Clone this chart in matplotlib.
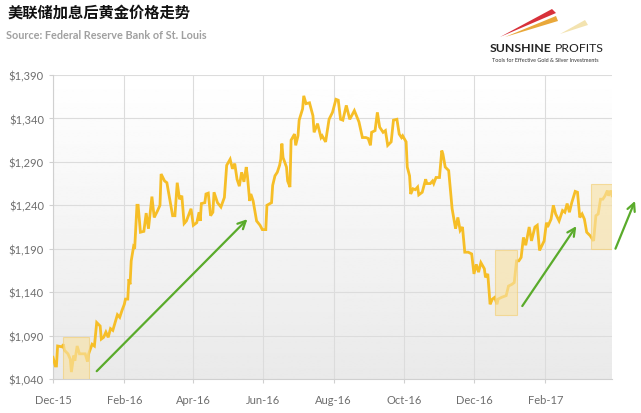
import matplotlib
matplotlib.use("Agg")
import matplotlib.pyplot as plt
import matplotlib.dates as mdates
from matplotlib.patches import Rectangle, Polygon
from matplotlib.ticker import FuncFormatter
import numpy as np
import pandas as pd

plt.rcParams["font.family"] = ["Lato", "DejaVu Sans"]

start = pd.Timestamp("2015-12-01")

# days after 2015-12-01
day_offset = [0, 2, 3, 4, 8, 9, 10, 13, 15, 16, 18, 19, 21, 23, 28, 30, 31, 34, 36, 38,
              41, 42, 44, 46, 48, 50, 52, 54, 56, 58, 60, 62, 63, 65, 66, 67, 68, 70, 71, 73,
              74, 76, 79, 81, 83, 86, 88, 91, 93, 94, 97, 99, 101, 104, 106, 108, 110, 112, 114, 116,
              120, 122, 125, 127, 128, 129, 132, 133, 135, 137, 139, 140, 143, 146, 149, 151, 154, 156, 158, 160,
              162, 164, 166, 168, 169, 171, 172, 174, 177, 180, 182, 185, 186, 190, 191, 193, 195, 197, 198, 199,
              200, 203, 204, 206, 207, 210, 211, 213, 214, 217, 218, 220, 223, 226, 227, 230, 233, 234, 237, 240,
              243, 246, 248, 250, 252, 255, 258, 262, 265, 266, 269, 272, 274, 276, 277, 280, 282, 284, 287, 289,
              291, 294, 296, 299, 301, 303, 304, 307, 308, 310, 311, 313, 315, 317, 318, 321, 324, 325, 328, 330,
              331, 333, 336, 338, 339, 341, 344, 347, 350, 352, 354, 356, 358, 361, 364, 366, 368, 370, 372, 375,
              376, 378, 380, 382, 384, 386, 387, 390, 394, 396, 399, 401, 403, 405, 407, 409, 411, 414, 416, 419,
              421, 423, 427, 429, 430, 433, 435, 437, 440, 443, 445, 447, 449, 451, 454, 456, 457, 458, 460, 462,
              464, 467, 470, 472, 474, 476, 478, 480, 482, 483, 485, 486]
gold_price = [1065, 1055, 1055, 1078, 1077, 1080, 1073, 1069, 1063, 1048, 1067, 1061, 1078, 1069, 1069, 1060, 1069, 1080, 1078, 1105,
              1101, 1086, 1088, 1094, 1088, 1098, 1096, 1105, 1114, 1111, 1119, 1126, 1132, 1132, 1155, 1149, 1176, 1192, 1190, 1240,
              1240, 1209, 1210, 1231, 1213, 1250, 1226, 1234, 1240, 1276, 1268, 1266, 1251, 1228, 1228, 1266, 1247, 1251, 1219, 1222,
              1236, 1217, 1220, 1232, 1222, 1242, 1243, 1253, 1254, 1228, 1232, 1255, 1243, 1238, 1249, 1286, 1293, 1282, 1288, 1270,
              1262, 1278, 1267, 1284, 1274, 1245, 1253, 1245, 1222, 1217, 1212, 1212, 1240, 1243, 1263, 1274, 1278, 1286, 1293, 1311,
              1295, 1284, 1268, 1261, 1315, 1322, 1309, 1320, 1338, 1351, 1366, 1357, 1358, 1343, 1324, 1334, 1318, 1320, 1313, 1339,
              1347, 1362, 1361, 1339, 1338, 1355, 1339, 1349, 1339, 1336, 1318, 1318, 1317, 1309, 1324, 1326, 1347, 1330, 1324, 1326,
              1309, 1313, 1338, 1339, 1322, 1318, 1320, 1313, 1284, 1274, 1253, 1259, 1258, 1261, 1252, 1255, 1270, 1265, 1265, 1268,
              1265, 1272, 1272, 1303, 1299, 1284, 1280, 1236, 1213, 1226, 1211, 1215, 1186, 1186, 1184, 1161, 1172, 1163, 1174, 1167,
              1157, 1161, 1126, 1132, 1134, 1126, 1132, 1134, 1136, 1147, 1149, 1151, 1176, 1176, 1180, 1203, 1194, 1215, 1199, 1215,
              1217, 1188, 1199, 1220, 1215, 1224, 1240, 1230, 1222, 1234, 1232, 1242, 1232, 1243, 1256, 1255, 1240, 1226, 1230, 1224,
              1209, 1205, 1199, 1228, 1230, 1247, 1247, 1251, 1257, 1251, 1257, 1251]

# shaded windows around the rate hikes (day range, price range)
box_days = [(9, 31), (384, 403), (468, 486)]
box_prices = [(1040, 1088), (1114, 1189), (1190, 1264)]

# green trend arrows (start -> tip)
arrow_days = [(38, 169), (408, 455), (489, 506)]
arrow_prices = [(1049, 1224), (1124, 1216), (1190, 1245)]

y_ticks = list(range(1040, 1391, 50))

GOLD = "#f6be27"
GREEN = "#5aab2b"
GRID = "#dcdcdc"
LABEL = "#6e6e6e"

fig = plt.figure(figsize=(6.41, 4.14), dpi=100)
ax = fig.add_axes([53 / 641, 1 - 380 / 414, (612 - 53) / 641, (380 - 76) / 414])

# plot background: light grey at the top fading to white
grad = np.linspace(0.915, 1.0, 256).reshape(-1, 1)
ax.imshow(grad, cmap="gray", vmin=0, vmax=1, aspect="auto",
          extent=[0, 1, 1, 0], transform=ax.transAxes, zorder=0)

dates = start + pd.to_timedelta(day_offset, unit="D")
ax.plot(dates, gold_price, color=GOLD, lw=2.0, zorder=3, solid_joinstyle="miter")

for (d0, d1), (p0, p1) in zip(box_days, box_prices):
    x0 = mdates.date2num(start + pd.Timedelta(days=d0))
    x1 = mdates.date2num(start + pd.Timedelta(days=d1))
    ax.add_patch(Rectangle((x0, p0), x1 - x0, p1 - p0, facecolor="#f8e2a6",
                           edgecolor="#f3cf74", lw=0.8, alpha=0.65, zorder=4))

for (d0, d1), (p0, p1) in zip(arrow_days, arrow_prices):
    a = start + pd.Timedelta(days=d0)
    b = start + pd.Timedelta(days=d1)
    ax.annotate("", xy=(mdates.date2num(b), p1), xytext=(mdates.date2num(a), p0),
                arrowprops=dict(arrowstyle="->", color=GREEN, lw=1.6,
                                mutation_scale=14, shrinkA=0, shrinkB=0),
                annotation_clip=False, clip_on=False, zorder=5)

ax.set_xlim(start, start + pd.Timedelta(days=486))
ax.set_ylim(1040, 1390)
ax.set_yticks(y_ticks)
ax.yaxis.set_major_formatter(FuncFormatter(lambda v, p: f"${v:,.0f}"))
ax.xaxis.set_major_locator(mdates.MonthLocator(bymonth=[2, 4, 6, 8, 10, 12]))
ax.xaxis.set_major_formatter(mdates.DateFormatter("%b-%y"))

ax.grid(True, color=GRID, lw=0.8, zorder=1)
ax.set_axisbelow(True)
for s in ["top", "right"]:
    ax.spines[s].set_visible(False)
for s in ["left", "bottom"]:
    ax.spines[s].set_color("#d0d0d0")
ax.tick_params(axis="both", colors="#d0d0d0", labelcolor=LABEL, labelsize=8, length=3)
ax.tick_params(axis="x", pad=8)

# title block
fig.text(8 / 641, 1 - 13 / 414, "美联储加息后黄金价格走势", fontsize=11, fontweight="bold",
         family=["Noto Sans CJK SC", "DejaVu Sans"], color="#111111", va="center")
fig.text(6 / 641, 1 - 36 / 414, "Source: Federal Reserve Bank of St. Louis", fontsize=7.8,
         fontweight="bold", color="#a0a0a0", va="center")

# logo
fig.patches.append(Polygon([[500 / 641, 1 - 38 / 414], [552 / 641, 1 - 10 / 414], [556 / 641, 1 - 14 / 414]],
                           closed=True, transform=fig.transFigure, color="#d8313a", lw=0))
fig.patches.append(Polygon([[505 / 641, 1 - 38 / 414], [556 / 641, 1 - 17 / 414], [558 / 641, 1 - 22 / 414]],
                           closed=True, transform=fig.transFigure, color="#e9a83a", lw=0))
fig.patches.append(Polygon([[560 / 641, 1 - 35 / 414], [585 / 641, 1 - 21 / 414], [588 / 641, 1 - 26 / 414]],
                           closed=True, transform=fig.transFigure, color="#f3e3b0", lw=0))
fig.text(490 / 641, 1 - 48 / 414, "SUNSHINE", fontsize=8.8, fontweight="bold", color="#222222", va="center")
fig.text(555 / 641, 1 - 48 / 414, "PROFITS", fontsize=8.8, color="#222222", va="center")
fig.text(492 / 641, 1 - 61 / 414, "Tools for Effective Gold & Silver Investments", fontsize=3.9,
         color="#333333", va="center")

fig.savefig("out.png", dpi=100)
